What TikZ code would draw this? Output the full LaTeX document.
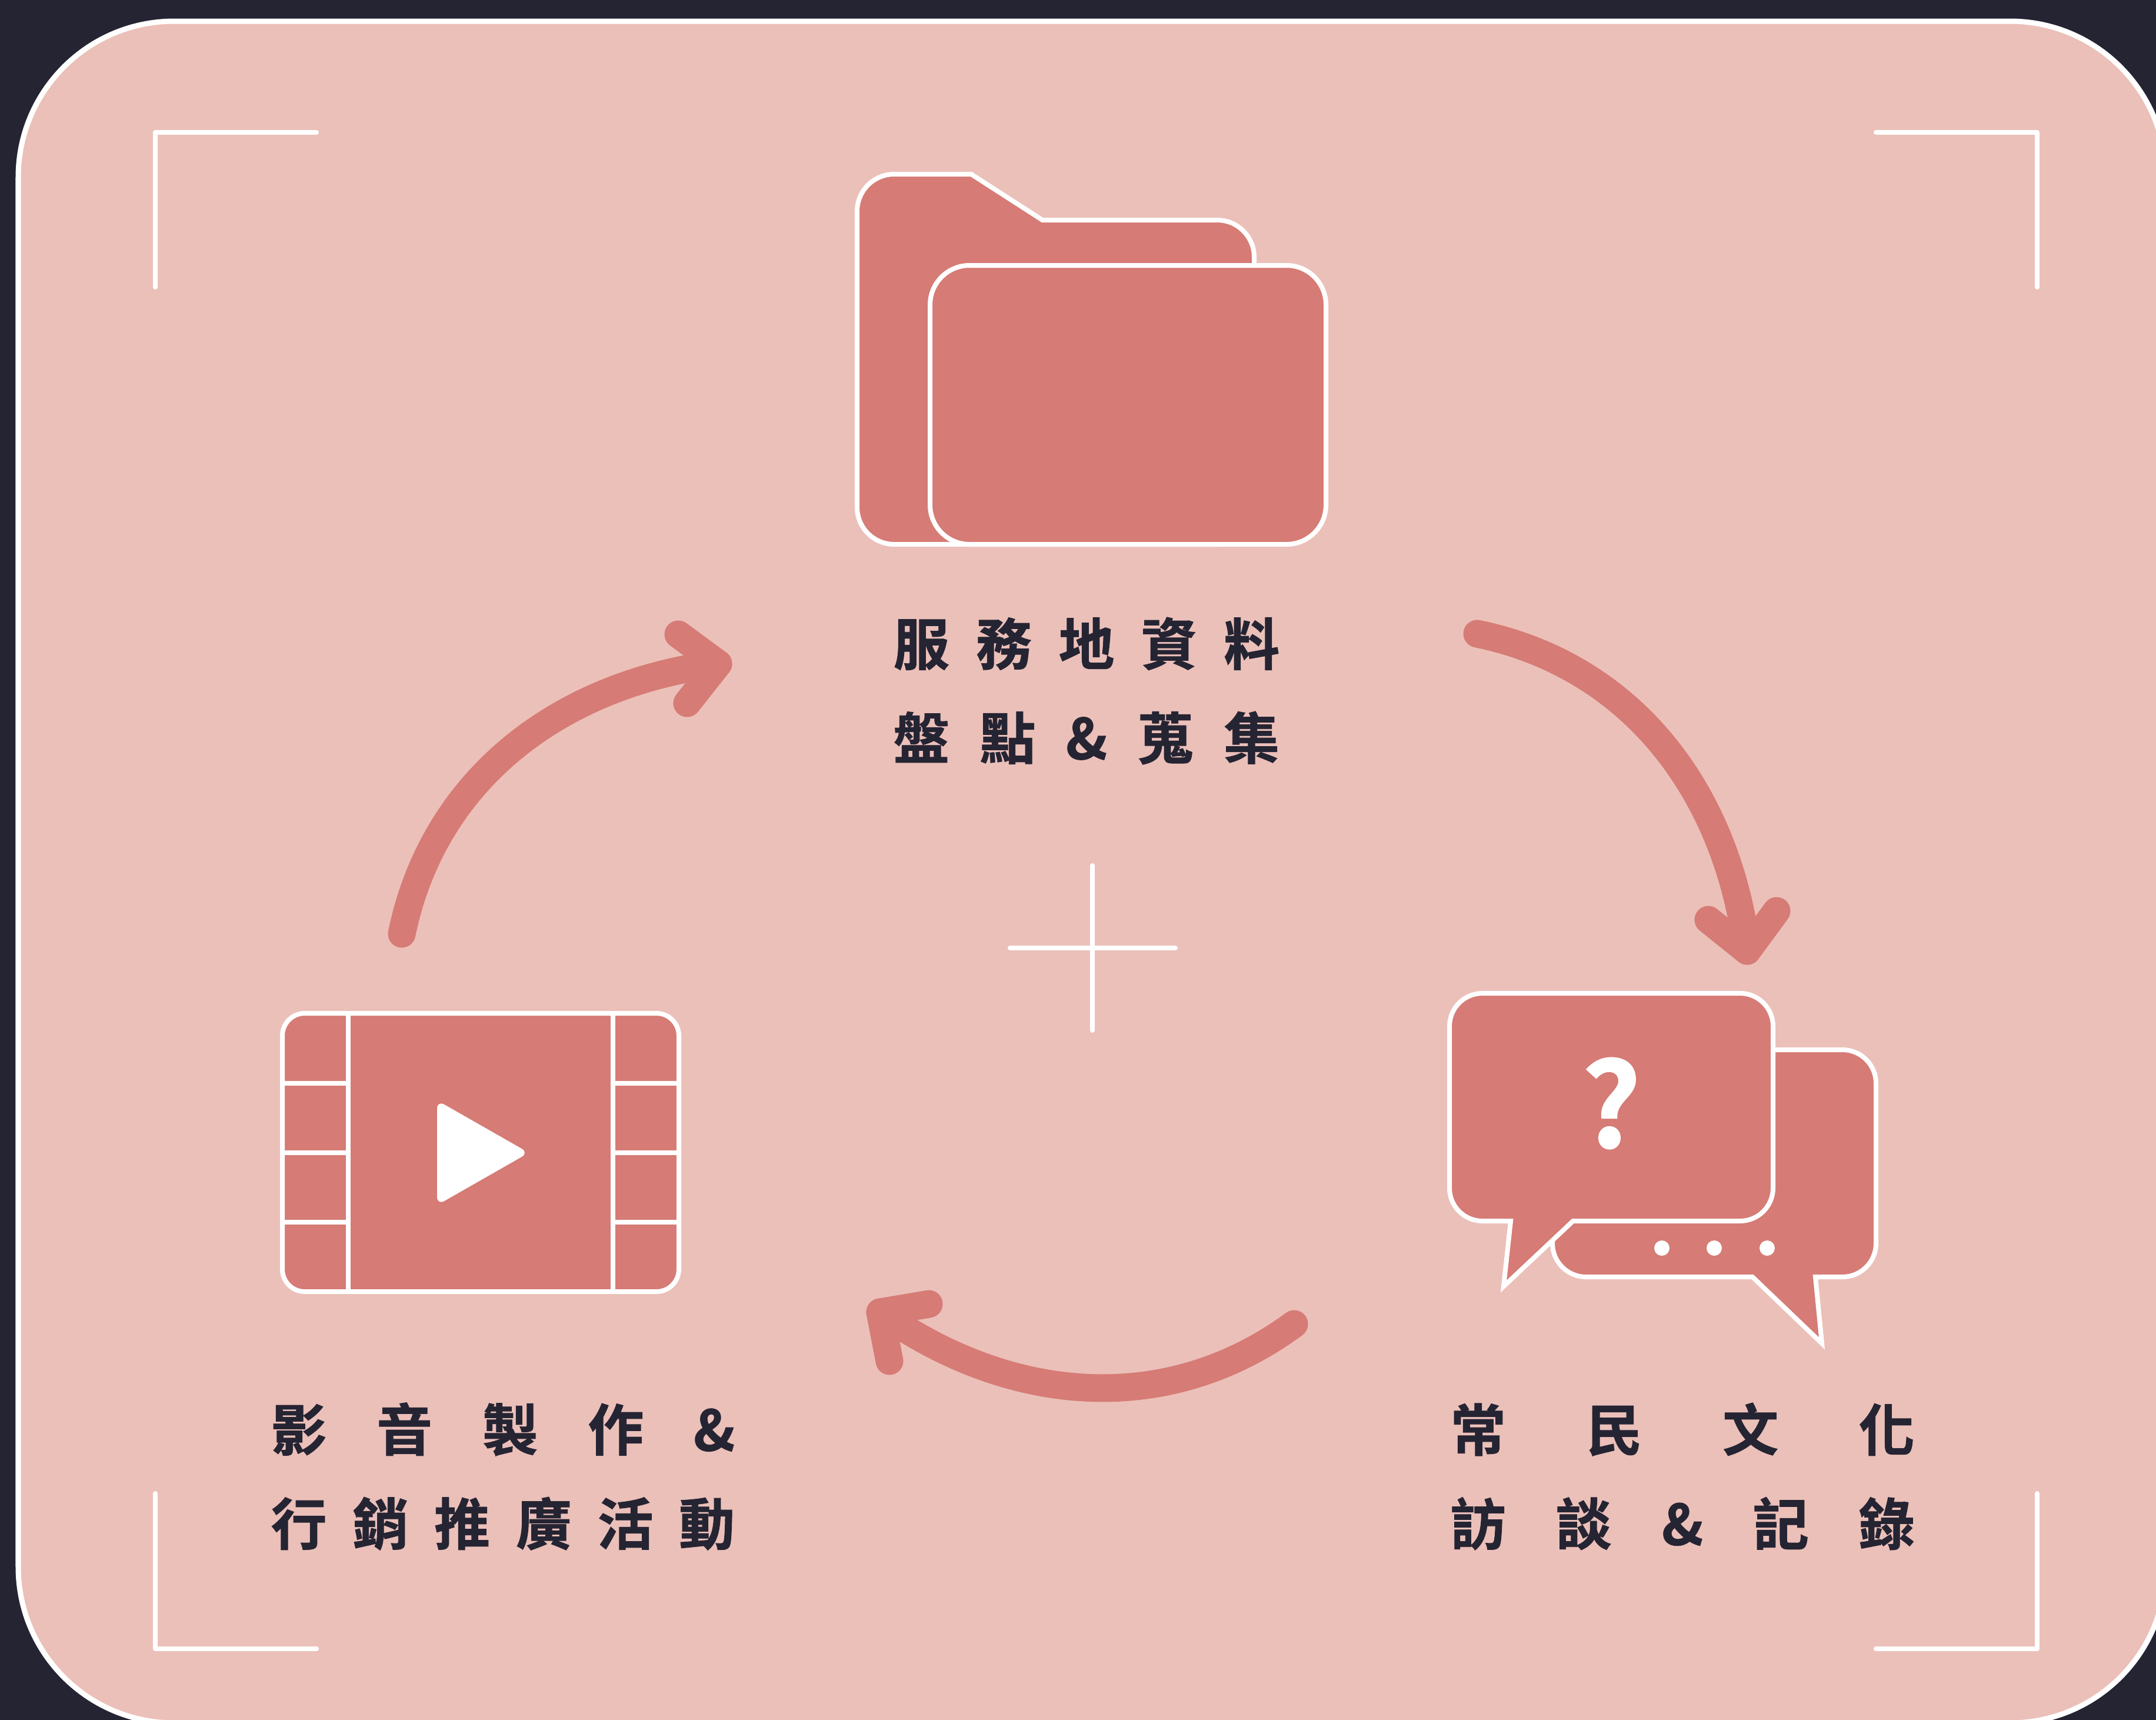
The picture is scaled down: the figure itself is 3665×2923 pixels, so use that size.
\documentclass[tikz,border=0pt]{standalone}
\usepackage{fontspec}
\newfontfamily\cjk{Noto Sans CJK TC Bold}[FakeBold=1]
\definecolor{nightbg}{HTML}{252433}
\definecolor{panelpink}{HTML}{EBC0B9}
\definecolor{rose}{HTML}{D67B75}
\begin{document}
\begin{tikzpicture}[x=0.01cm,y=-0.01cm]
\tikzstyle{frameline}=[draw=white, line width=0.08cm, line cap=round, line join=round]
\tikzstyle{iconbox}=[draw=white, fill=rose, line width=0.08cm]
\tikzstyle{iconrule}=[draw=white, line width=0.08cm]
\tikzstyle{flow}=[draw=rose, line width=0.47cm, line cap=round, line join=round]
\tikzstyle{caption}=[inner sep=0pt, align=center, text=nightbg, font=\cjk\fontsize{27}{45.5}\selectfont]
\tikzstyle{dot}=[circle, fill=white, inner sep=0pt, minimum size=0.26cm]

\clip (0,0) rectangle (3665,2923);
\fill[nightbg] (0,0) rectangle (3665,2923);
\draw[draw=white, fill=panelpink, line width=0.09cm, rounded corners=2.65cm] (31,36) rectangle (3682,2928);

\draw[frameline] (538,225) -- (264,225) -- (264,488);
\draw[frameline] (3189,225) -- (3463,225) -- (3463,488);
\draw[frameline] (264,2538) -- (264,2802) -- (538,2802);
\draw[frameline] (3463,2538) -- (3463,2802) -- (3189,2802);

\coordinate (crossN) at (1857,1471);
\coordinate (crossS) at (1857,1751);
\coordinate (crossW) at (1717,1611);
\coordinate (crossE) at (1998,1611);
\draw[frameline] (crossN) -- (crossS);
\draw[frameline] (crossW) -- (crossE);

\draw[iconbox] (1651,296) -- (1772,374) [rounded corners=0.63cm] -- (2132,374) -- (2132,925) -- (1457,925) -- (1457,296) [sharp corners] -- (1651,296) -- cycle;
\draw[iconbox, rounded corners=0.67cm] (1581,451) rectangle (2254,925);

\draw[iconbox] (2979,2170) [rounded corners=0.57cm] -- (2639,2170) -- (2639,1784) -- (3189,1784) -- (3189,2170) [sharp corners] -- (3086,2170) -- (3097,2283) -- cycle;
\draw[iconbox] (2674,2075) [rounded corners=0.56cm] -- (3014,2075) -- (3014,1688) -- (2464,1688) -- (2464,2075) [sharp corners] -- (2568,2075) -- (2556,2186) -- cycle;
\node[font=\cjk\fontsize{56}{56}\selectfont, text=white, inner sep=0pt] (question) at (2739,1875) {?};
\node[dot] (dotA) at (2825,2121) {};
\node[dot] (dotB) at (2914,2121) {};
\node[dot] (dotC) at (3004,2121) {};

\draw[iconbox, rounded corners=0.38cm] (480,1722) rectangle (1154,2195);
\draw[iconrule] (592,1722) -- (592,2195);
\draw[iconrule] (1042,1722) -- (1042,2195);
\draw[iconrule] (480,1841) -- (592,1841);
\draw[iconrule] (480,1959) -- (592,1959);
\draw[iconrule] (480,2077) -- (592,2077);
\draw[iconrule] (1042,1841) -- (1154,1841);
\draw[iconrule] (1042,1959) -- (1154,1959);
\draw[iconrule] (1042,2077) -- (1154,2077);
\fill[white, rounded corners=0.14cm] (743,1870) -- (899,1959) -- (743,2048) -- cycle;

\node[caption] (foldertext) at (1847,1174) {\makebox[6.56cm][s]{服\hfil 務\hfil 地\hfil 資\hfil 料}\\\makebox[6.56cm][s]{盤\hfil 點\hfil \&\hfil 蒐\hfil 集}};
\node[caption] (talktext) at (2860,2509) {\makebox[7.89cm][s]{常\hfil 民\hfil 文\hfil 化}\\\makebox[7.89cm][s]{訪\hfil 談\hfil \&\hfil 記\hfil 錄}};
\node[caption] (filmtext) at (855,2509) {\makebox[7.88cm][s]{影\hfil 音\hfil 製\hfil 作\hfil \&}\\\makebox[7.88cm][s]{行\hfil 銷\hfil 推\hfil 廣\hfil 活\hfil 動}};

\coordinate (rightS) at (2511,1077);
\coordinate (rightT) at (2970,1616);
\coordinate (rightA) at (2904,1563);
\coordinate (rightB) at (3020,1548);
\draw[flow] (rightS) .. controls (2770,1130) and (2935,1340) .. (rightT);
\draw[flow] (rightA) -- (rightT) -- (rightB);

\coordinate (lowS) at (2200,2250);
\coordinate (lowT) at (1496,2230);
\coordinate (lowA) at (1579,2216);
\coordinate (lowB) at (1512,2313);
\draw[flow] (lowS) .. controls (1987,2407) and (1721,2389) .. (lowT);
\draw[flow] (lowA) -- (lowT) -- (lowB);

\coordinate (leftS) at (683,1587);
\coordinate (leftT) at (1221,1128);
\coordinate (leftA) at (1153,1078);
\coordinate (leftB) at (1168,1195);
\draw[flow] (leftS) .. controls (736,1328) and (946,1163) .. (leftT);
\draw[flow] (leftA) -- (leftT) -- (leftB);
\end{tikzpicture}
\end{document}
